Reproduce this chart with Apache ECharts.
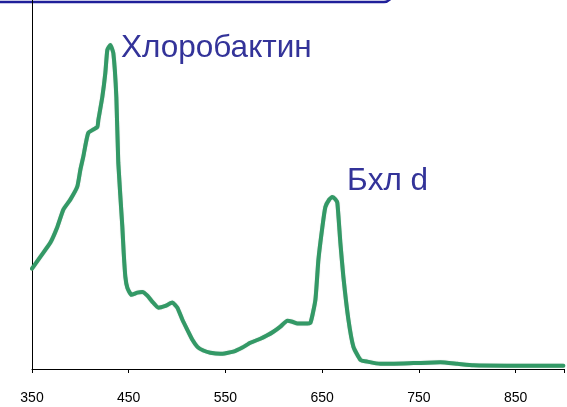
<!DOCTYPE html>
<html>
<head>
<meta charset="utf-8">
<script src="https://cdn.jsdelivr.net/npm/echarts@6/dist/echarts.min.js"></script>
<style>html,body{margin:0;padding:0;background:#fff}#c{width:567px;height:407px}</style>
</head>
<body>
<div id="c"></div>
<script>
// Wavelength (nm)
var wavelengths = [350,358.6,368.9,376.2,382.4,389.6,396.8,400,403,408.2,417.5,418.6,422.7,425.8,427.9,431,434.1,437.2,439.2,443.4,
  444.8,446.5,448.6,452.7,458.9,464.1,469.3,474.5,480.7,487.9,495.1,500.3,505.4,510.6,515.8,521,527.1,534.4,544.7,558.2,
  567.5,575.7,586.1,592.3,599.5,606.8,614,619.2,624.4,631.6,637.8,643,646.1,650.2,653.3,657.5,660.5,663.6,665.7,668.8,
  671.9,677.1,682.3,689.5,696.7,710.2,744.3,772.2,789.8,806.3,841.4,899.3];
// Absorbance (relative units)
var absorbance = [27.2,30.4,34.2,38.5,43.2,45.9,49.4,54.0,57.5,64.0,65.6,67.5,73.7,80.2,86.5,87.8,85.6,73.7,55.9,38.5,
  31.5,25.0,22.0,20.1,20.7,20.9,19.9,18.2,16.6,17.1,18.0,16.6,13.4,10.6,7.9,6.0,5.0,4.4,4.1,4.7,
  5.8,7.1,8.2,9.0,10.1,11.5,13.1,12.8,12.3,12.3,12.5,18.8,29.6,38.5,43.9,46.0,46.6,46.0,45.0,34.2,
  25.0,13.4,6.0,2.5,2.0,1.4,1.6,1.8,1.4,1.0,0.9,0.9];
var xTicks = [350,450,550,650,750,850];
var peakLabels = ["Хлоробактин","Бхл d"];

var data = wavelengths.map(function(w,i){return [w, absorbance[i]];});
var chart = echarts.init(document.getElementById('c'));
chart.setOption({
  animation:false,
  grid:{left:32,right:0,top:0,bottom:38},
  xAxis:{type:'value',min:350,max:900,interval:100,
    axisLine:{lineStyle:{color:'#000',width:1}},
    axisTick:{show:true,length:4,lineStyle:{color:'#000'}},
    splitLine:{show:false},
    axisLabel:{margin:22,color:'#000',fontSize:14,fontFamily:'Liberation Sans, Arial',
      formatter:function(v){return xTicks.indexOf(v)>=0?String(v):'';}}},
  yAxis:{type:'value',min:0,max:100,
    axisLine:{show:true,lineStyle:{color:'#000',width:1}},
    axisTick:{show:false},axisLabel:{show:false},splitLine:{show:false}},
  series:[{type:'line',data:data,showSymbol:false,smooth:0.15,
    lineStyle:{color:'#339966',width:4,cap:'round',join:'round',shadowColor:'rgba(20,90,50,0.35)',shadowBlur:1}}],
  graphic:[
    {type:'rect',shape:{x:-20,y:-40,width:412,height:42,r:8},style:{fill:'none',stroke:'#1f1f9a',lineWidth:2.5}},
    {type:'text',left:121,top:32,style:{text:peakLabels[0],fill:'#333399',font:'31.5px "Liberation Sans", Arial'}},
    {type:'text',left:347,top:165,style:{text:peakLabels[1],fill:'#333399',font:'31.5px "Liberation Sans", Arial'}}
  ]
});
</script>
</body>
</html>
